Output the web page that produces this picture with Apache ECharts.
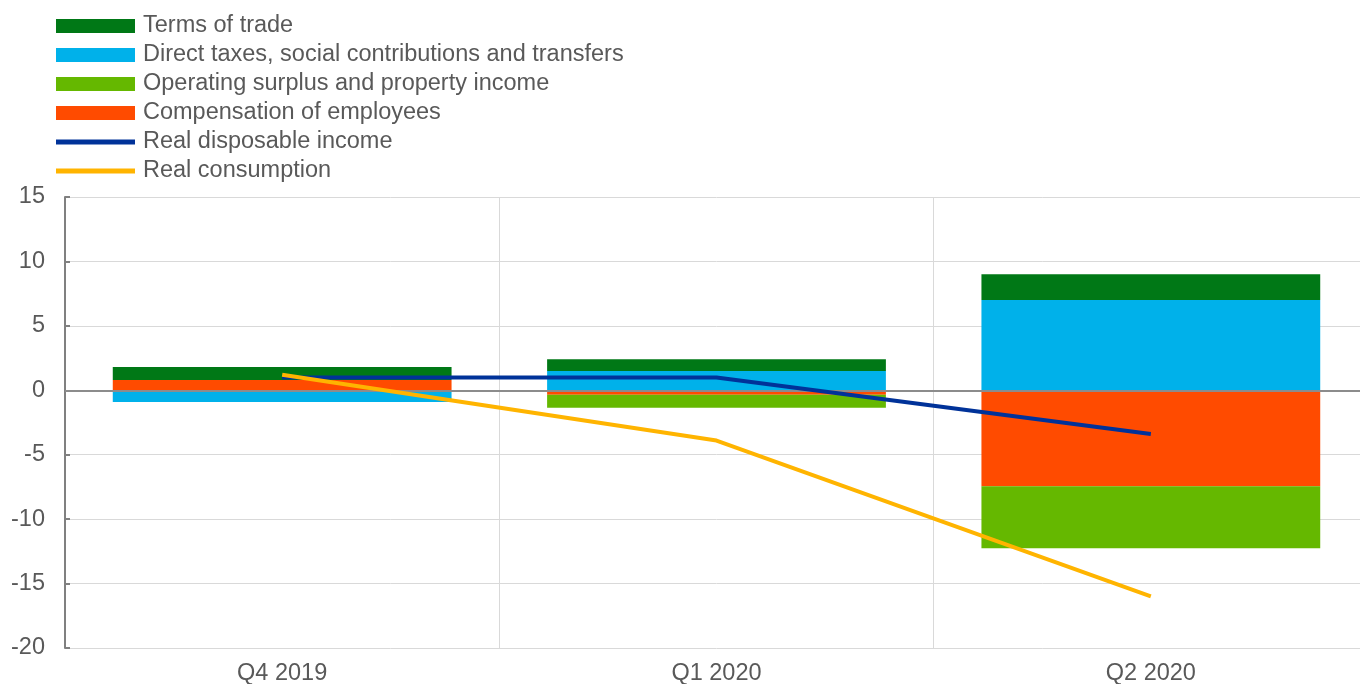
<!DOCTYPE html>
<html>
<head>
<meta charset="utf-8">
<script src="https://cdn.jsdelivr.net/npm/echarts@6/dist/echarts.min.js"></script>
<style>
html,body{margin:0;padding:0;background:#fff;overflow:hidden;width:1360px;height:684px;}
#chart{width:1368px;height:684px;}
</style>
</head>
<body>
<div id="chart"></div>
<script>
const categories = ['Q4 2019', 'Q1 2020', 'Q2 2020'];
const termsOfTrade = [1.0, 0.9, 2.0];
const directTaxes = [-0.9, 1.5, 7.0];
const operatingSurplus = [0, -1.0, -4.8];
const compensation = [0.8, -0.35, -7.45];
const realDisposableIncome = [1.0, 1.0, -3.4];
const realConsumption = [1.2, -3.9, -16.0];
const yTicks = [-20, -15, -10, -5, 0, 5, 10, 15];

const textColor = '#595959';
const font = 'Liberation Sans, Arial, sans-serif';
const lineIcon = 'path://M0,0M0,4.5H79V9.5H0ZM79,14';

const chart = echarts.init(document.getElementById('chart'));
function barSeries(name, data, color, extra) {
  return Object.assign({
    name: name, type: 'bar', stack: 'total', data: data,
    barWidth: '78%',
    itemStyle: { color: color },
    emphasis: { disabled: true }
  }, extra || {});
}
chart.setOption({
  animation: false,
  textStyle: { fontFamily: font },
  legend: {
    orient: 'vertical', left: 51, top: 9,
    itemWidth: 79, itemHeight: 14, itemGap: 5,
    textStyle: { fontSize: 23.5, color: textColor, fontFamily: font, lineHeight: 23, padding: [0, 0, 0, 3] },
    data: [
      { name: 'Terms of trade', icon: 'rect' },
      { name: 'Direct taxes, social contributions and transfers', icon: 'rect' },
      { name: 'Operating surplus and property income', icon: 'rect' },
      { name: 'Compensation of employees', icon: 'rect' },
      { name: 'Real disposable income', icon: lineIcon, itemStyle: { color: '#003299' } },
      { name: 'Real consumption', icon: lineIcon, itemStyle: { color: '#FFB400' } }
    ]
  },
  grid: { left: 65, right: 0, top: 197, bottom: 36, containLabel: false, outerBoundsMode: 'none' },
  xAxis: {
    type: 'category', data: categories, position: 'bottom',
    axisLine: { show: false, onZero: false },
    axisTick: { show: false },
    axisLabel: { fontSize: 23.5, color: textColor, margin: 14, fontFamily: font },
    splitLine: { show: true, lineStyle: { color: '#d9d9d9', width: 1 } }
  },
  yAxis: {
    type: 'value', min: yTicks[0], max: yTicks[yTicks.length - 1], interval: 5,
    axisLine: { show: true, lineStyle: { color: '#808080', width: 2 } },
    axisTick: { show: true, inside: true, length: 5, lineStyle: { color: '#808080', width: 2 } },
    axisLabel: { fontSize: 23.5, color: textColor, margin: 20, fontFamily: font },
    splitLine: { show: true, lineStyle: { color: '#d9d9d9', width: 1 } }
  },
  series: [
    barSeries('Compensation of employees', compensation, '#FF4B00'),
    barSeries('Operating surplus and property income', operatingSurplus, '#65B800'),
    barSeries('Direct taxes, social contributions and transfers', directTaxes, '#00B1EA'),
    barSeries('Terms of trade', termsOfTrade, '#007816', {
      markLine: {
        silent: true, symbol: 'none', label: { show: false },
        lineStyle: { color: '#8c8c8c', width: 2, type: 'solid' },
        data: [{ yAxis: 0 }]
      }
    }),
    {
      name: 'Real disposable income', type: 'line', data: realDisposableIncome,
      symbol: 'none', z: 5,
      lineStyle: { color: '#003299', width: 4 }, itemStyle: { color: '#003299' }
    },
    {
      name: 'Real consumption', type: 'line', data: realConsumption,
      symbol: 'none', z: 5,
      lineStyle: { color: '#FFB400', width: 4 }, itemStyle: { color: '#FFB400' }
    }
  ]
});
</script>
</body>
</html>
